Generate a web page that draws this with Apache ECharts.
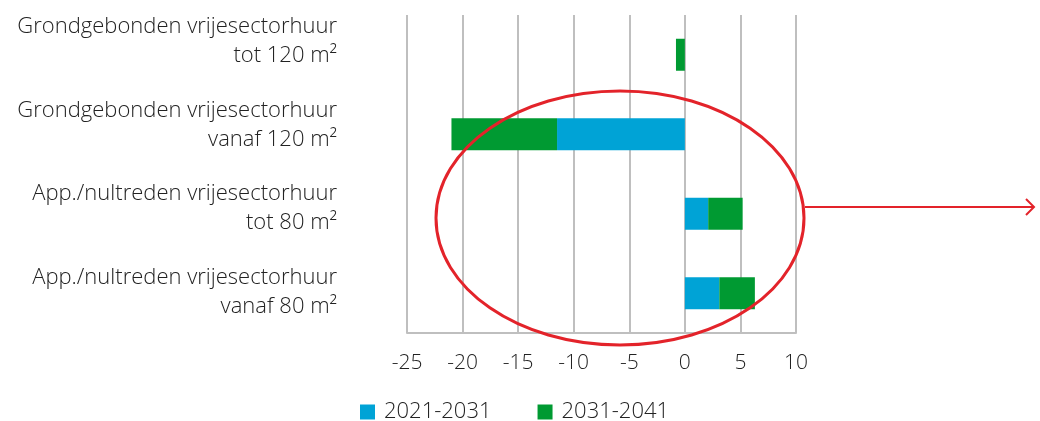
<!DOCTYPE html>
<html>
<head>
<meta charset="utf-8">
<script src="https://cdn.jsdelivr.net/npm/echarts@6/dist/echarts.min.js"></script>
<style>
html,body{margin:0;padding:0;background:#fff;}
#c{width:1040px;height:421px;}
</style>
</head>
<body>
<div id="c"></div>
<script>
var categories = [
  'Grondgebonden vrijesectorhuur\ntot 120 m²',
  'Grondgebonden vrijesectorhuur\nvanaf 120 m²',
  'App./nultreden vrijesectorhuur\ntot 80 m²',
  'App./nultreden vrijesectorhuur\nvanaf 80 m²'
];
var series2021_2031 = [0, -11.5, 2.1, 3.1];
var series2031_2041 = [-0.8, -9.5, 3.1, 3.2];
var xTicks = [-25, -20, -15, -10, -5, 0, 5, 10];

var FONT = 'Open Sans';
var labelShift = [27, 18, 12, 3];
var rich = {};
for (var i = 0; i < 4; i++) {
  rich['s' + i] = {fontSize: 1, lineHeight: labelShift[i]};
}

var chart = echarts.init(document.getElementById('c'));
chart.setOption({
  animation: false,
  textStyle: {fontFamily: FONT},
  grid: {left: 407, right: 244, top: 15, bottom: 88},
  legend: {
    left: 360, top: 401, padding: 0,
    itemWidth: 15, itemHeight: 15, itemGap: 46, icon: 'rect',
    textStyle: {fontFamily: FONT, fontSize: 22, fontWeight: 300, color: '#222', padding: [0,0,0,4]},
    data: ['2021-2031', '2031-2041']
  },
  xAxis: {
    type: 'value', min: -25, max: 10, interval: 5,
    axisLine: {show: true, lineStyle: {color: '#bfbfbf', width: 2}},
    axisTick: {show: false},
    splitLine: {show: true, lineStyle: {color: '#bfbfbf', width: 2}},
    axisLabel: {fontFamily: FONT, fontSize: 21, fontWeight: 300, color: '#222', margin: 20,
      formatter: function (v) { return xTicks.indexOf(v) >= 0 ? String(v) : ''; }}
  },
  yAxis: {
    type: 'category', inverse: true, data: categories,
    axisLine: {show: false}, axisTick: {show: false},
    axisLabel: {fontFamily: FONT, fontSize: 22, fontWeight: 300, color: '#222', margin: 70,
      lineHeight: 29, align: 'right', rich: rich, interval: 0, hideOverlap: false,
      formatter: function (v, idx) {
        return v + '\n{s' + idx + '| }';
      }}
  },
  series: [
    {name: '2021-2031', type: 'bar', stack: 'a', data: series2021_2031,
     barWidth: 32, itemStyle: {color: '#00a3d6'}},
    {name: '2031-2041', type: 'bar', stack: 'a', data: series2031_2041,
     barWidth: 32, itemStyle: {color: '#009a32'}}
  ],
  graphic: [
    {type: 'ellipse', z: 100, shape: {cx: 620, cy: 218, rx: 184, ry: 127},
     style: {fill: 'none', stroke: '#e3232a', lineWidth: 3}},
    {type: 'line', z: 100, shape: {x1: 805, y1: 207, x2: 1034, y2: 207},
     style: {stroke: '#e3232a', lineWidth: 2}},
    {type: 'polyline', z: 100, shape: {points: [[1026, 199], [1034, 207], [1026, 215]]},
     style: {fill: 'none', stroke: '#e3232a', lineWidth: 2}}
  ]
});
</script>
</body>
</html>
